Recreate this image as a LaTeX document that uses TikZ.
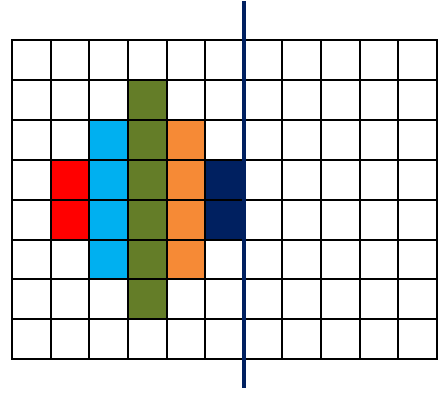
\documentclass[tikz,border=0pt]{standalone}
\usepackage{tikz}
\definecolor{cred}{HTML}{FF0000}
\definecolor{cblue}{HTML}{00B0F0}
\definecolor{cgreen}{HTML}{647D28}
\definecolor{corange}{HTML}{F68A36}
\definecolor{cnavy}{HTML}{002060}
\begin{document}
\begin{tikzpicture}[x=1pt,y=-1pt,
  gridline/.style={line width=2pt,black},
  axisline/.style={line width=4pt,cnavy}]
\useasboundingbox (0,0) rectangle (439,394);
\def\cw{38.64}
\def\ch{39.9}
\newcommand{\cellfill}[3]{\fill[#3] ({12+#1*\cw},{40+#2*\ch}) rectangle ++(\cw,\ch);}
% red
\cellfill{1}{3}{cred}\cellfill{1}{4}{cred}
% blue
\foreach \r in {2,...,5} {\cellfill{2}{\r}{cblue}}
% green
\foreach \r in {1,...,6} {\cellfill{3}{\r}{cgreen}}
% orange
\foreach \r in {2,...,5} {\cellfill{4}{\r}{corange}}
% navy
\cellfill{5}{3}{cnavy}\cellfill{5}{4}{cnavy}
% grid
\foreach \i in {0,...,11} {\draw[gridline] ({12+\i*\cw},39) -- ({12+\i*\cw},{40+8*\ch+1});}
\foreach \j in {0,...,8} {\draw[gridline] (11,{40+\j*\ch}) -- ({12+11*\cw+1},{40+\j*\ch});}
% axis line
\coordinate (atop) at (243.5,1);
\coordinate (abot) at (243.5,388);
\draw[axisline] (atop) -- (abot);
\end{tikzpicture}
\end{document}
